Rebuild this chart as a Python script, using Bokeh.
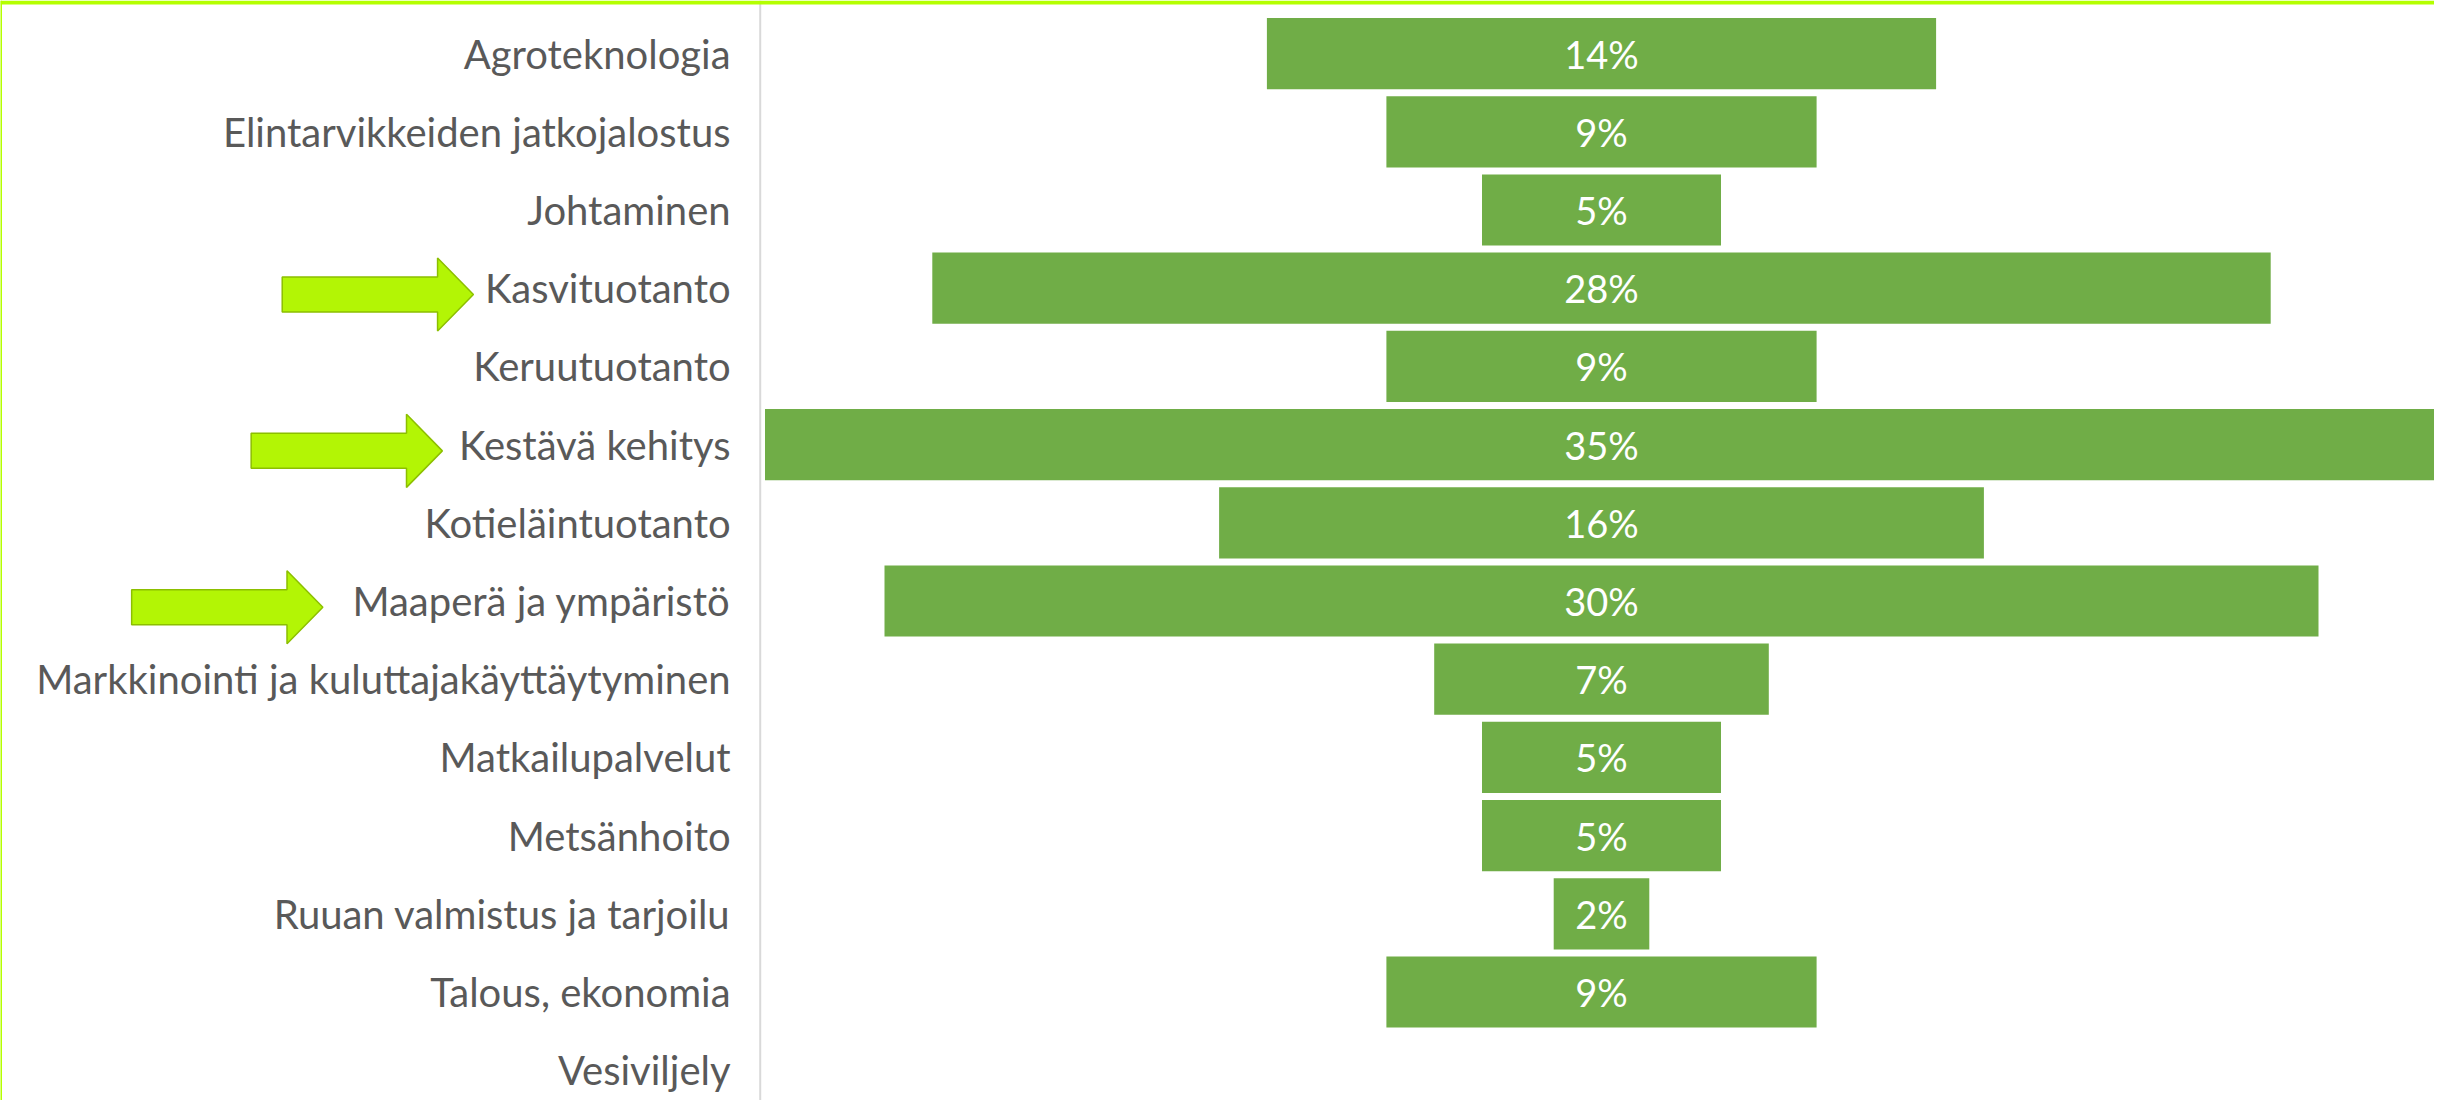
from bokeh.plotting import figure
from bokeh.models import Range1d, ColumnDataSource, Span
from bokeh.core.properties import value
from bokeh.embed import file_html
from bokeh.resources import INLINE

# ---- data ----
categories = [
    "Agroteknologia",
    "Elintarvikkeiden jatkojalostus",
    "Johtaminen",
    "Kasvituotanto",
    "Keruutuotanto",
    "Kestävä kehitys",
    "Kotieläintuotanto",
    "Maaperä ja ympäristö",
    "Markkinointi ja kuluttajakäyttäytyminen",
    "Matkailupalvelut",
    "Metsänhoito",
    "Ruuan valmistus ja tarjoilu",
    "Talous, ekonomia",
    "Vesiviljely",
]
percent = [14, 9, 5, 28, 9, 35, 16, 30, 7, 5, 5, 2, 9, 0]
highlighted = ["Kasvituotanto", "Kestävä kehitys", "Maaperä ja ympäristö"]

# ---- layout ----
W, H = 2434, 1100
PX_PER_UNIT = 47.8          # pixels per percentage point
CENTER_PX = 1601            # pixel of the funnel centre line
ROW_PX = 78.2               # pixel pitch of rows
TOP_PX = 14                 # pixel of the top row boundary

x_start = -CENTER_PX / PX_PER_UNIT
x_end = (W - CENTER_PX) / PX_PER_UNIT
y_top = -0.5 - TOP_PX / ROW_PX
y_bottom = y_top + H / ROW_PX

p = figure(width=W, height=H, output_backend="svg", toolbar_location=None,
           x_range=Range1d(x_start, x_end), y_range=Range1d(y_bottom, y_top),
           min_border=0, min_border_left=0, min_border_right=0,
           min_border_top=0, min_border_bottom=0)
p.axis.visible = False
p.grid.visible = False
p.outline_line_color = None
p.background_fill_color = "white"
p.border_fill_color = "white"

idx = list(range(len(categories)))
src = ColumnDataSource(dict(
    y=idx,
    cat=categories,
    val=percent,
    left=[-v / 2 for v in percent],
    right=[v / 2 for v in percent],
    lab=[f"{v}%" if v > 0 else "" for v in percent],
    zero=[0] * len(percent),
))

# bars centred on zero (funnel style)
p.hbar(y="y", left="left", right="right", height=0.91, source=src,
       fill_color="#70ad47", line_color=None)

# value labels
p.text(x="zero", y="y", text="lab", source=src, text_color="white",
       text_font=value("Lato"), text_font_size="38px",
       text_align="center", text_baseline="middle")

# vertical axis line at the left edge of the funnel
axis_x = -max(percent) / 2 - 0.1
p.add_layout(Span(location=axis_x, dimension="height", line_color="#d9d9d9",
                  line_width=2))

# category labels
label_x = axis_x - 0.62
src_lab = ColumnDataSource(dict(x=[label_x] * len(categories), y=idx, cat=categories))
p.text(x="x", y="y", text="cat", source=src_lab, text_color="#595959",
       text_font=value("Lato"), text_font_size="40px",
       text_align="right", text_baseline="middle")

# highlight arrows pointing at selected categories
tip_x = {"Kasvituotanto": -23.6, "Kestävä kehitys": -24.25, "Maaperä ja ympäristö": -26.75}
arrow_len, head_len = 4.0, 0.75
body_h, head_h = 0.224, 0.467
xs, ys = [], []
for c in highlighted:
    r = categories.index(c) + 0.08
    t = tip_x[c]
    tail = t - arrow_len
    base = t - head_len
    xs.append([tail, base, base, t, base, base, tail])
    ys.append([r - body_h, r - body_h, r - head_h, r, r + head_h, r + body_h, r + body_h])
p.patches(xs, ys, fill_color="#b3f505", line_color="#8cbf00", line_width=1.5)

# lime frame lines (top and left edge of the picture)
p.add_layout(Span(location=y_top + 2 / ROW_PX, dimension="width",
                  line_color="#b4ff00", line_width=4))
p.add_layout(Span(location=x_start + 0.5 / PX_PER_UNIT, dimension="height",
                  line_color="#b4ff00", line_width=2))

open("out.html", "w").write(file_html(p, INLINE))
